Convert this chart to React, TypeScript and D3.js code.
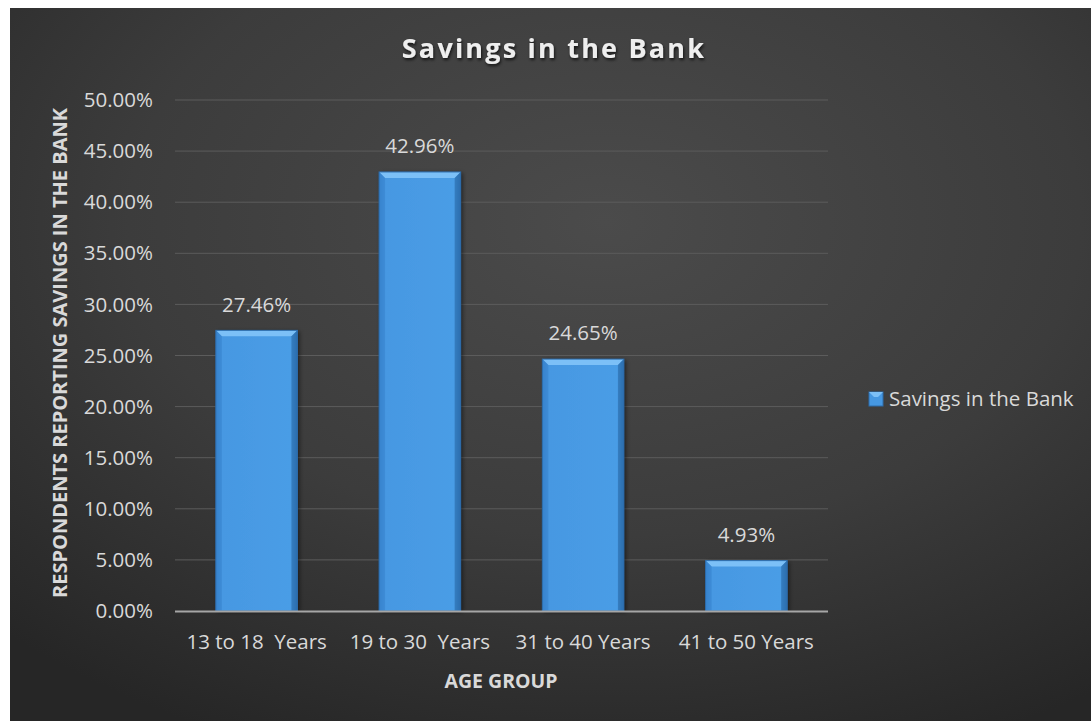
import React from "react";
import * as d3 from "d3";

const categories = ["13 to 18  Years", "19 to 30  Years", "31 to 40 Years", "41 to 50 Years"];
const values = [0.2746, 0.4296, 0.2465, 0.0493];
const yTicks = [0, 0.05, 0.1, 0.15, 0.2, 0.25, 0.3, 0.35, 0.4, 0.45, 0.5];
const seriesName = "Savings in the Bank";
const chartTitle = "Savings in the Bank";
const xTitle = "AGE GROUP";
const yTitle = "RESPONDENTS REPORTING SAVINGS IN THE BANK";

const W = 1081;
const H = 713;
const OX = 10;
const OY = 8;
const FONT = "'Open Sans', 'Noto Sans', sans-serif";
const FS = 20.5;

export default function App() {
  const plotL = 175 - OX;
  const plotR = 828 - OX;
  const plotT = 100 - OY;
  const plotB = 611 - OY;
  const x = d3.scaleBand<string>().domain(categories).range([plotL, plotR]).paddingInner(0.5).paddingOuter(0.25);
  const y = d3.scaleLinear().domain([0, 0.5]).range([plotB, plotT]);
  const fmt = d3.format(".2%");
  const bev = 6;

  return (
    <div style={{ position: "absolute", left: OX, top: OY, width: W, height: H }}>
      <svg width={W} height={H} style={{ display: "block" }}>
        <defs>
          <radialGradient id="bg" cx="0.55" cy="0.3" r="0.8">
            <stop offset="0" stopColor="#4b4b4b" />
            <stop offset="0.55" stopColor="#3c3c3c" />
            <stop offset="1" stopColor="#262626" />
          </radialGradient>
          <linearGradient id="barFill" x1="0" y1="0" x2="1" y2="0">
            <stop offset="0" stopColor="#3380c8" />
            <stop offset="0.08" stopColor="#4698e2" />
            <stop offset="0.92" stopColor="#4a9de6" />
            <stop offset="1" stopColor="#2f74b8" />
          </linearGradient>
          <filter id="tshadow" x="-10%" y="-30%" width="120%" height="160%">
            <feDropShadow dx="1" dy="2" stdDeviation="1.5" floodColor="#000" floodOpacity="0.7" />
          </filter>
          <filter id="bshadow" x="-20%" y="-10%" width="140%" height="120%">
            <feDropShadow dx="2" dy="1" stdDeviation="2" floodColor="#000" floodOpacity="0.5" />
          </filter>
        </defs>
        <rect x={0} y={0} width={W} height={H} fill="url(#bg)" />
        <text x={554 - OX} y={58 - OY} textAnchor="middle" fontFamily={FONT} fontSize={27} fontWeight="bold" letterSpacing={2.2} fill="#eeeeee" filter="url(#tshadow)">
          {chartTitle}
        </text>
        {yTicks.map((t) => (
          <g key={t}>
            {t > 0 && <line x1={plotL} x2={plotR} y1={y(t)} y2={y(t)} stroke="#5c5c5c" strokeWidth={1} />}
            <text x={153 - OX} y={y(t)} dy="0.35em" textAnchor="end" fontFamily={FONT} fontSize={FS} fill="#d9d9d9">
              {fmt(t)}
            </text>
          </g>
        ))}
        {categories.map((c, i) => {
          const x0 = x(c)!;
          const w = x.bandwidth();
          const top = y(values[i]);
          const bot = y(0);
          return (
            <g key={c}>
              <rect x={x0} y={top} width={w} height={bot - top} fill="url(#barFill)" filter="url(#bshadow)" />
              <polygon points={`${x0},${top} ${x0 + w},${top} ${x0 + w - bev},${top + bev} ${x0 + bev},${top + bev}`} fill="#7cc0f7" />
              <polygon points={`${x0},${top} ${x0 + bev},${top + bev} ${x0 + bev},${bot} ${x0},${bot}`} fill="#3a86d0" opacity={0.6} />
              <polygon points={`${x0 + w},${top} ${x0 + w - bev},${top + bev} ${x0 + w - bev},${bot} ${x0 + w},${bot}`} fill="#2a6aa8" opacity={0.6} />
              <rect x={x0} y={top} width={w} height={bot - top} fill="none" stroke="#2d6cab" strokeWidth={1} />
              <text x={x0 + w / 2} y={top - 26} dy="0.35em" textAnchor="middle" fontFamily={FONT} fontSize={FS} fill="#d9d9d9">
                {fmt(values[i])}
              </text>
              <text x={x0 + w / 2} y={642 - OY} dy="0.35em" textAnchor="middle" fontFamily={FONT} fontSize={FS} fill="#d9d9d9" style={{ whiteSpace: "pre" }} xmlSpace="preserve">
                {c}
              </text>
            </g>
          );
        })}
        <line x1={plotL} x2={plotR} y1={y(0) + 0.5} y2={y(0) + 0.5} stroke="#a6a6a6" strokeWidth={2} />
        <text x={501 - OX} y={681 - OY} dy="0.35em" textAnchor="middle" fontFamily={FONT} fontSize={19.5} fontWeight="bold" fill="#d9d9d9">
          {xTitle}
        </text>
        <text transform={`translate(${60 - OX},${353 - OY}) rotate(-90)`} dy="0.35em" textAnchor="middle" fontFamily={FONT} fontSize={20} fontWeight="bold" fill="#d9d9d9">
          {yTitle}
        </text>
        <g transform={`translate(${869 - OX},${392 - OY})`}>
          <rect x={0} y={0} width={14} height={14} fill="#4698e2" stroke="#2d6cab" />
          <polygon points="0,0 14,0 9,5 5,5" fill="#7cc0f7" />
          <text x={20} y={7} dy="0.35em" fontFamily={FONT} fontSize={FS} fill="#d9d9d9">
            {seriesName}
          </text>
        </g>
      </svg>
    </div>
  );
}
